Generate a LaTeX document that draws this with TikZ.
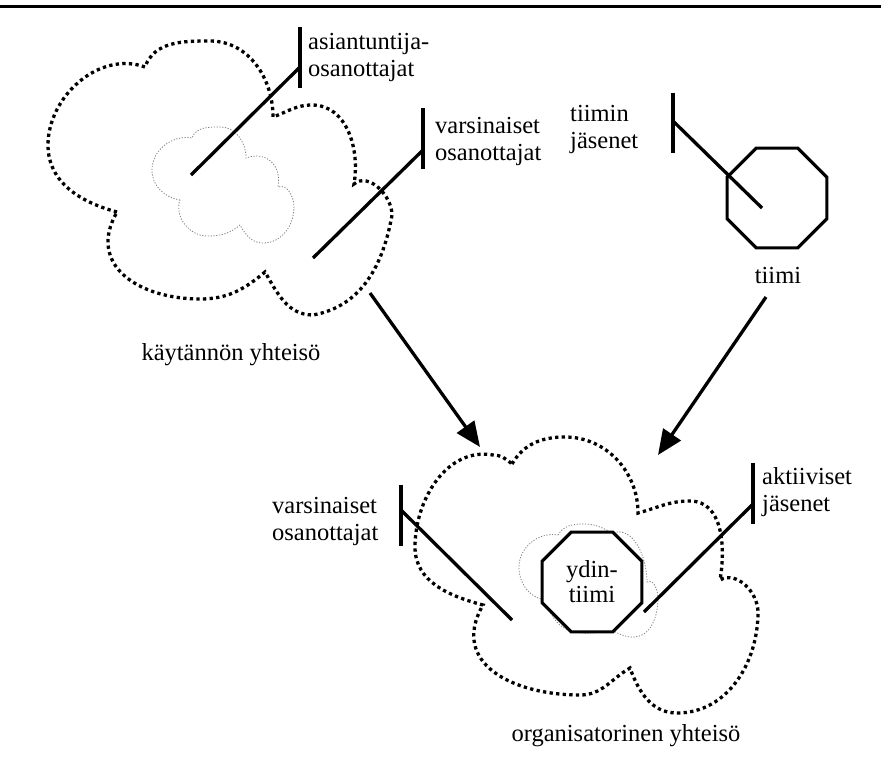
\documentclass[tikz,border=0pt]{standalone}
\usepackage{fontspec}
\setmainfont{Liberation Serif}
\usetikzlibrary{arrows.meta,shapes.geometric}

\tikzset{
  bigcloud/.style={line width=3.3pt, dash pattern=on 3.3pt off 3.3pt},
  smallcloud/.style={draw=gray, line width=0.8pt, dash pattern=on 1.2pt off 1.6pt},
  tick/.style={line width=3.3pt},
  arr/.style={line width=3.3pt, -{Triangle[length=25pt,width=21pt]}},
  lbl/.style={font=\fontsize{24.5}{27}\selectfont, align=left, inner sep=0pt},
  octa/.style={draw, line width=3.2pt, regular polygon, regular polygon sides=8,
    minimum size=108pt, inner sep=0pt, font=\fontsize{24.5}{25}\selectfont, align=center},
}

\begin{document}
\begin{tikzpicture}[x=1pt,y=-1pt]
\useasboundingbox (0,0) rectangle (881,764);
\draw[line width=3.8pt] (0,6.5) -- (881,6.5);

% kaytannon yhteiso
\draw[bigcloud] (117,212) to[out=165,in=-90] (48,145) to[out=90,in=160] (145,67)
  to[out=70,in=180] (210,41) to[out=0,in=90] (273,117)
  to[out=20,in=180] (312,105) to[out=0,in=80] (354,184)
  to[out=40,in=90] (392,215) to[out=-100,in=10] (313,315) to[out=180,in=-60] (265,272)
  to[out=-140,in=0] (200,299) to[out=180,in=-120,looseness=1.3] (117,212);
\draw[smallcloud] (180,200) to[out=170,in=-90] (152,170) to[out=90,in=170] (192,138)
  to[out=70,in=180] (220,127) to[out=0,in=90] (246,158)
  to[out=20,in=80,looseness=1.3] (278,187)
  to[out=20,in=90] (294,207) to[out=-90,in=0] (263,243) to[out=180,in=-60] (240,225)
  to[out=-140,in=0] (207,236) to[out=180,in=-110] (180,200);
\node[lbl] (kyLbl) at (231,355) {käytännön yhteisö};

% asiantuntija-osanottajat
\draw[tick] (300,27) -- (300,88);
\coordinate (asJoin) at (300,67);
\coordinate (asEnd) at (191,175);
\draw[tick] (asJoin) -- (asEnd);
\node[lbl, anchor=west] (asLbl) at (308,57) {asiantuntija-\\osanottajat};

% varsinaiset osanottajat (ylh.)
\draw[tick] (423,108) -- (423,169);
\coordinate (voJoin) at (423,150);
\coordinate (voEnd) at (313,258);
\draw[tick] (voJoin) -- (voEnd);
\node[lbl, anchor=west] (voLbl) at (435,141) {varsinaiset\\osanottajat};

% tiimi
\node[octa] (tiimiOct) at (777,198) {};
\node[lbl] (tiimiLbl) at (778,276) {tiimi};
\draw[tick] (673,93) -- (673,153);
\coordinate (tjJoin) at (673,121);
\coordinate (tjEnd) at (762,208);
\draw[tick] (tjJoin) -- (tjEnd);
\node[lbl, anchor=west] (tjLbl) at (570,129) {tiimin\\jäsenet};

% nuolet
\coordinate (kyOut) at (370,293);
\coordinate (oyInL) at (480,447);
\draw[arr] (kyOut) -- (oyInL);
\coordinate (tiOut) at (766,297);
\coordinate (oyInR) at (658,455);
\draw[arr] (tiOut) -- (oyInR);

% organisatorinen yhteiso
\draw[bigcloud] (512,464) to[out=60,in=180] (565,437) to[out=0,in=90] (638,513)
  to[out=15,in=180] (690,501) to[out=0,in=80] (720,580)
  to[out=30,in=90] (758,612) to[out=-90,in=0] (677,713) to[out=180,in=-70] (630,668)
  to[out=-150,in=0] (580,695) to[out=180,in=-120,looseness=1.3] (483,605)
  to[out=165,in=-90] (415,547) to[out=90,in=170] (493,455) to[out=0,in=140] (512,464);
\draw[smallcloud] (558,535) to[out=60,in=180] (583,524) to[out=0,in=150] (612,533)
  to[out=20,in=90] (647,582)
  to[out=30,in=90] (658,598) to[out=-90,in=0] (633,637) to[out=180,in=-30] (612,630)
  to[out=-170,in=-10] (575,632) to[out=170,in=-70] (545,600)
  to[out=170,in=-90] (519,567) to[out=90,in=170] (558,535);
\node[octa, fill=white] (ydin) at (592,582) {ydin-\\tiimi};
\node[lbl] (oyLbl) at (626,736) {organisatorinen yhteisö};

% varsinaiset osanottajat (alh.)
\draw[tick] (401,485) -- (401,546);
\coordinate (vaJoin) at (401,510);
\coordinate (vaEnd) at (512,620);
\draw[tick] (vaJoin) -- (vaEnd);
\node[lbl, anchor=west] (vaLbl) at (272,521) {varsinaiset\\osanottajat};

% aktiiviset jasenet
\draw[tick] (753,463) -- (753,524);
\coordinate (ajJoin) at (753,504);
\coordinate (ajEnd) at (644,612);
\draw[tick] (ajJoin) -- (ajEnd);
\node[lbl, anchor=west] (ajLbl) at (762,492) {aktiiviset\\jäsenet};
\end{tikzpicture}
\end{document}
